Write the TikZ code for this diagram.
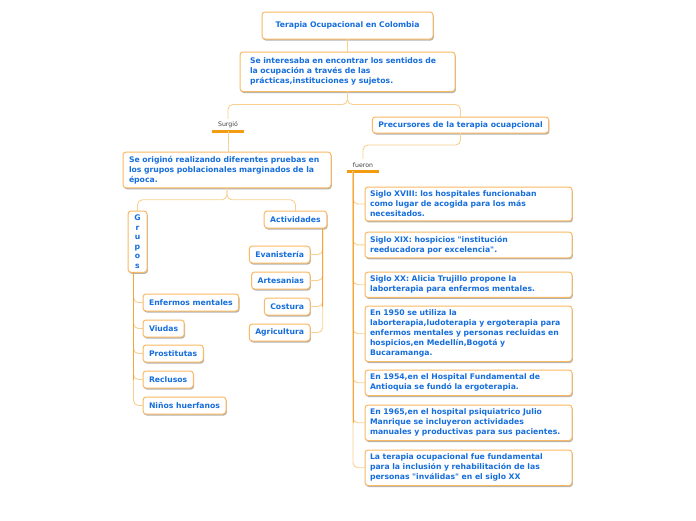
\documentclass[tikz,border=0pt]{standalone}
\usepackage{fontspec}
\setmainfont{DejaVu Sans}
\usepackage{tikz}
\usetikzlibrary{positioning,shadows}
\definecolor{boxline}{RGB}{250,185,100}
\definecolor{pale}{RGB}{248,208,145}
\definecolor{trunkc}{RGB}{245,165,60}
\definecolor{barc}{RGB}{243,156,18}
\definecolor{txtblue}{RGB}{22,110,220}
\begin{document}
\begin{tikzpicture}[x={(1pt,0pt)},y={(0pt,-1pt)},
  every node/.style={outer sep=0pt},
  topic/.style={draw=boxline, line width=1pt, rounded corners=3pt, fill=white, text=txtblue,
    font=\fontsize{7.7}{10}\selectfont\bfseries, inner xsep=6pt, inner ysep=4pt,
    drop shadow={shadow xshift=0.8pt, shadow yshift=-1.5pt, opacity=0.3, fill=black}},
  para/.style={topic, anchor=north west, align=left},
  tag/.style={font=\fontsize{6.2}{7}\selectfont, text=black!75, minimum width=32pt, minimum height=12pt, inner sep=1pt},
  link/.style={draw=pale, line width=0.9pt, rounded corners=5pt},
  trunk/.style={draw=trunkc, line width=1pt},
  bar/.style={draw=barc, line width=3pt}]
\useasboundingbox (0,0) rectangle (696,520);
\node[topic, minimum width=171pt, minimum height=27pt] (title) at (347.5,25.5) {Terapia Ocupacional en Colombia};
\node[para, text width=195pt, inner xsep=10pt, inner ysep=6pt] (intro) at (240,52) {Se interesaba en encontrar los sentidos de\\la ocupación a través de las\\prácticas,instituciones y sujetos.};
\node[tag] (surgio) at (228,125) {Surgió};
\node[topic, minimum height=16pt] (precur) at (460.5,125) {Precursores de la terapia ocuapcional};
\node[para, text width=196pt] (origen) at (123,152) {Se originó realizando diferentes pruebas en\\los grupos poblacionales marginados de la\\época.};
\node[topic, anchor=north, align=center, minimum width=19pt, inner xsep=3pt, font=\fontsize{7.7}{9.5}\selectfont\bfseries] (grupos) at (137.5,211) {G\\r\\u\\p\\o\\s};
\node[topic, minimum height=17pt] (activ) at (295.5,219.5) {Actividades};
% actividades
\node[topic, anchor=east, minimum height=17pt] (evan) at (310,254.5) {Evanistería};
\node[topic, anchor=east, minimum height=17pt] (artes) at (310,280.5) {Artesanias};
\node[topic, anchor=east, minimum height=17pt] (costura) at (310,306.5) {Costura};
\node[topic, anchor=east, minimum height=17pt] (agri) at (310,332.5) {Agricultura};
% grupos
\node[topic, anchor=west, minimum height=17pt] (enferm) at (143,302.5) {Enfermos mentales};
\node[topic, anchor=west, minimum height=17pt] (viudas) at (143,328.5) {Viudas};
\node[topic, anchor=west, minimum height=17pt] (prost) at (143,353.5) {Prostitutas};
\node[topic, anchor=west, minimum height=17pt] (reclus) at (143,379.5) {Reclusos};
\node[topic, anchor=west, minimum height=17pt] (ninos) at (143,405.5) {Niños huerfanos};
% precursores
\node[tag] (fueron) at (363,165) {fueron};
\node[para, text width=197pt, inner xsep=5pt] (s18) at (365,187) {Siglo XVIII: los hospitales funcionaban\\como lugar de acogida para los más\\necesitados.};
\node[para, text width=197pt, inner xsep=5pt] (s19) at (365,232) {Siglo XIX: hospicios \textquotedbl institución\\reeducadora por excelencia\textquotedbl.};
\node[para, text width=197pt, inner xsep=5pt] (s20) at (365,272) {Siglo XX: Alicia Trujillo propone la\\laborterapia para enfermos mentales.};
\node[para, text width=197pt, inner xsep=5pt] (y1950) at (365,306) {En 1950 se utiliza la\\laborterapia,ludoterapia y ergoterapia para\\enfermos mentales y personas recluidas en\\hospicios,en Medellín,Bogotá y\\Bucaramanga.};
\node[para, text width=197pt, inner xsep=5pt] (y1954) at (365,370) {En 1954,en el Hospital Fundamental de\\Antioquia se fundó la ergoterapia.};
\node[para, text width=197pt, inner xsep=5pt] (y1965) at (365,405) {En 1965,en el hospital psiquiatrico Julio\\Manrique se incluyeron actividades\\manuales y productivas para sus pacientes.};
\node[para, text width=197pt, inner xsep=5pt] (inclus) at (365,450) {La terapia ocupacional fue fundamental\\para la inclusión y rehabilitación de las\\personas \textquotedbl inválidas\textquotedbl{} en el siglo XX};
% conectores
\draw[link] (title) -- (intro);
\draw[link] (intro.south) -- ++(0,13) -| (surgio.north);
\draw[link] (intro.south) -- ++(0,13) -| (precur.north);
\draw[bar] (surgio.south west) -- (surgio.south east);
\draw[link] (surgio.south) -- (surgio.south |- origen.north);
\draw[link] (origen.south) -- ++(0,12) -| (grupos.north);
\draw[link] (origen.south) -- ++(0,12) -| (activ.north);
\coordinate (gtop) at ([xshift=-4pt]grupos.south);
\foreach \n in {enferm,viudas,prost,reclus,ninos}
  \draw[link] (gtop) |- (\n.west);
\draw[trunk] (gtop) -- (gtop |- reclus.west);
\coordinate (atop) at ([xshift=-4pt]activ.south east);
\foreach \n in {evan,artes,costura,agri}
  \draw[link] (atop) |- (\n.east);
\draw[trunk] (atop) -- (atop |- costura.east);
\draw[link] (precur.south) -- ++(0,12) -| (fueron.north);
\draw[bar] (fueron.south west) -- (fueron.south east);
\coordinate (ftop) at ([xshift=6pt]fueron.south west);
\foreach \n in {s18,s19,s20,y1950,y1954,y1965,inclus}
  \draw[link] (ftop) |- (\n.west);
\draw[trunk] (ftop) -- (ftop |- y1965.west);
\end{tikzpicture}
\end{document}
